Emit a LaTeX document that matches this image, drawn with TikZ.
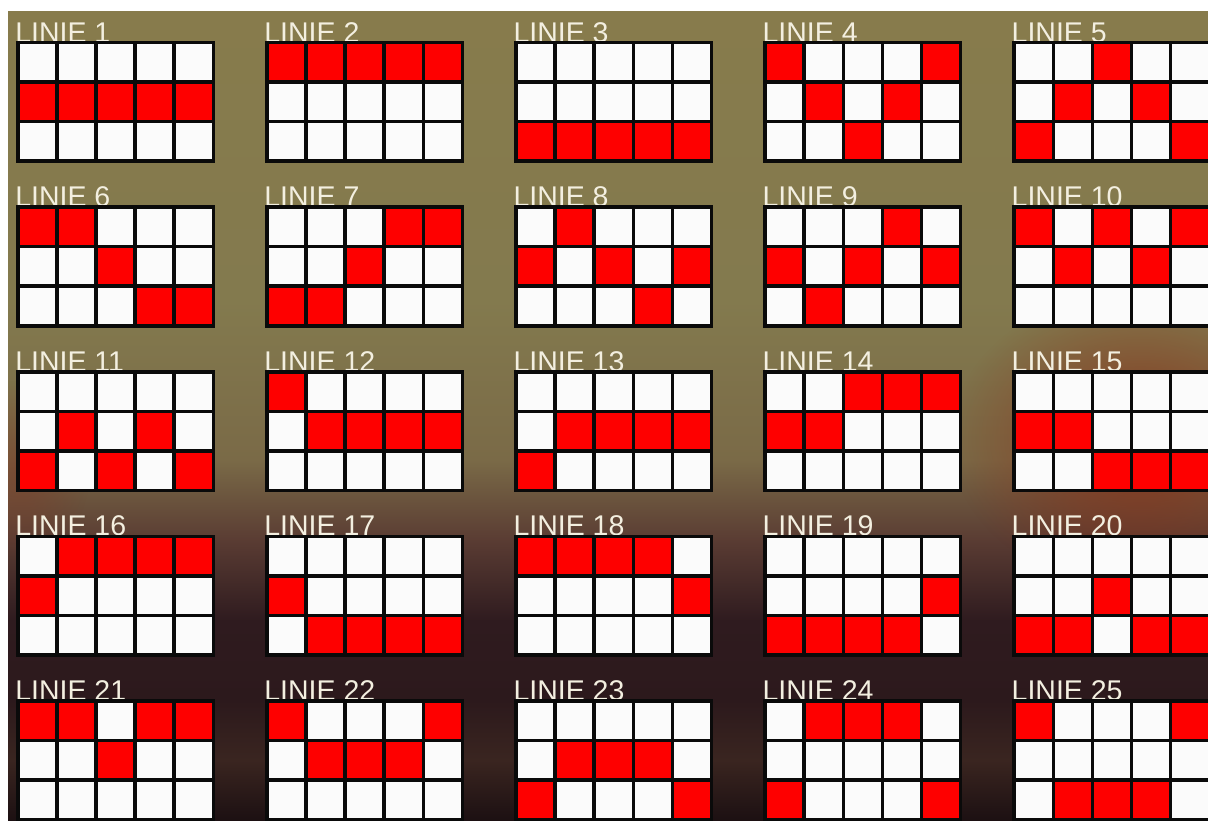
\documentclass[tikz,border=0pt]{standalone}
\usepackage{fontspec}
\setmainfont{Liberation Sans}
\usetikzlibrary{fadings}
\definecolor{bgA}{HTML}{877B4C}
\definecolor{bgB}{HTML}{837A4E}
\definecolor{bgC}{HTML}{7A6A47}
\definecolor{bgD}{HTML}{5A3C33}
\definecolor{bgE}{HTML}{2F1B1F}
\definecolor{bgF}{HTML}{2C191C}
\definecolor{bgG}{HTML}{3A2520}
\definecolor{bgH}{HTML}{1C1012}
\definecolor{glowcol}{HTML}{8A2E16}
\definecolor{glowleft}{HTML}{7A3A28}
\definecolor{lblcol}{HTML}{F3EFE0}
\definecolor{cellred}{HTML}{FE0000}
\definecolor{cellwhite}{HTML}{FBFBFB}
\definecolor{gridcol}{HTML}{0A0A0A}
\tikzfading[name=glowfade, inner color=transparent!0, outer color=transparent!100]
\tikzset{
  lbl/.style={inner sep=0pt, anchor=base west, text=lblcol, font=\fontsize{28.5}{30}\selectfont},
  redcell/.style={fill=cellred},
  whitecell/.style={fill=cellwhite},
  gridline/.style={draw=gridcol, line width=3.5pt},
}
\newcommand{\linepanel}[4]{%
  \begin{scope}[shift={(16+249.1*#1,41+164.5*#2)}]
    \node[lbl] (L#3) at (-0.9,1.2) {LINIE #3};
    \fill[whitecell] (0,0) rectangle (199,122);
    \foreach \cc/\rr in {#4} {
      \fill[redcell] (1.75+39.1*\cc-39.1,1.75+39.5*\rr-39.5) rectangle (1.75+39.1*\cc,1.75+39.5*\rr);
    }
    \foreach \ii in {1,...,4} {
      \draw[gridline] (1.75+39.1*\ii,1.75) -- (1.75+39.1*\ii,120.25);
    }
    \foreach \jj in {1,2} {
      \draw[gridline] (1.75,1.75+39.5*\jj) -- (197.25,1.75+39.5*\jj);
    }
    \draw[gridline] (1.75,1.75) rectangle (197.25,120.25);
  \end{scope}}
\begin{document}
\begin{tikzpicture}[x=1pt,y=-1pt]
  \clip (0,0) rectangle (1208,821);
  \fill[white] (0,0) rectangle (1208,821);
  % background
  \begin{scope}
    \clip (8,12) rectangle (1208,821);
    \fill[top color=bgA, bottom color=bgB] (8,12) rectangle (1208,300.5);
    \fill[top color=bgB, bottom color=bgC] (8,300) rectangle (1208,460.5);
    \fill[top color=bgC, bottom color=bgD] (8,460) rectangle (1208,540.5);
    \fill[top color=bgD, bottom color=bgE] (8,540) rectangle (1208,620.5);
    \fill[top color=bgE, bottom color=bgF] (8,620) rectangle (1208,700.5);
    \fill[top color=bgF, bottom color=bgG] (8,700) rectangle (1208,760.5);
    \fill[top color=bgG, bottom color=bgH] (8,760) rectangle (1208,821);
    \fill[glowcol, path fading=glowfade, opacity=0.85] (1140,440) ellipse [x radius=190, y radius=150];
    \fill[glowleft, path fading=glowfade, opacity=0.6] (20,470) ellipse [x radius=70, y radius=90];
  \end{scope}
  % panels
  \linepanel{0}{0}{1}{1/2,2/2,3/2,4/2,5/2}
  \linepanel{1}{0}{2}{1/1,2/1,3/1,4/1,5/1}
  \linepanel{2}{0}{3}{1/3,2/3,3/3,4/3,5/3}
  \linepanel{3}{0}{4}{1/1,5/1,2/2,4/2,3/3}
  \linepanel{4}{0}{5}{3/1,2/2,4/2,1/3,5/3}
  \linepanel{0}{1}{6}{1/1,2/1,3/2,4/3,5/3}
  \linepanel{1}{1}{7}{4/1,5/1,3/2,1/3,2/3}
  \linepanel{2}{1}{8}{2/1,1/2,3/2,5/2,4/3}
  \linepanel{3}{1}{9}{4/1,1/2,3/2,5/2,2/3}
  \linepanel{4}{1}{10}{1/1,3/1,5/1,2/2,4/2}
  \linepanel{0}{2}{11}{2/2,4/2,1/3,3/3,5/3}
  \linepanel{1}{2}{12}{1/1,2/2,3/2,4/2,5/2}
  \linepanel{2}{2}{13}{2/2,3/2,4/2,5/2,1/3}
  \linepanel{3}{2}{14}{3/1,4/1,5/1,1/2,2/2}
  \linepanel{4}{2}{15}{1/2,2/2,3/3,4/3,5/3}
  \linepanel{0}{3}{16}{2/1,3/1,4/1,5/1,1/2}
  \linepanel{1}{3}{17}{1/2,2/3,3/3,4/3,5/3}
  \linepanel{2}{3}{18}{1/1,2/1,3/1,4/1,5/2}
  \linepanel{3}{3}{19}{5/2,1/3,2/3,3/3,4/3}
  \linepanel{4}{3}{20}{3/2,1/3,2/3,4/3,5/3}
  \linepanel{0}{4}{21}{1/1,2/1,4/1,5/1,3/2}
  \linepanel{1}{4}{22}{1/1,5/1,2/2,3/2,4/2}
  \linepanel{2}{4}{23}{2/2,3/2,4/2,1/3,5/3}
  \linepanel{3}{4}{24}{2/1,3/1,4/1,1/3,5/3}
  \linepanel{4}{4}{25}{1/1,5/1,2/3,3/3,4/3}
\end{tikzpicture}
\end{document}
